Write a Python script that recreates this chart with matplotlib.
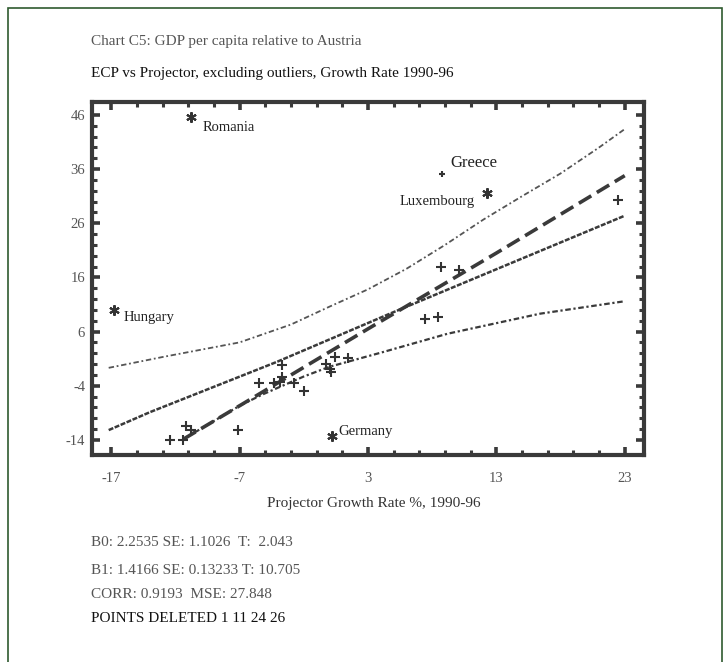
import matplotlib
matplotlib.use("Agg")
import matplotlib.pyplot as plt
from matplotlib.patches import Rectangle
from matplotlib.ticker import FixedLocator

plt.rcParams['font.family'] = ['Liberation Serif', 'DejaVu Serif']
plt.rcParams['axes.unicode_minus'] = False

# regular observations (Projector growth %, ECP growth %)
px = [-12.4, -11.4, -11.2, -10.8, -7.1, -5.5, -4.35, -3.85, -3.7, -3.7,
      -2.8, -2.0, -0.25, 0.05, 0.15, 0.45, 1.45, 7.45, 8.45, 8.65, 10.05, 22.5]
py = [-14.1, -14.1, -11.4, -12.1, -12.1, -3.5, -3.5, -3.4, -0.2, -2.4,
      -3.5, -4.9, 0.1, -0.9, -1.4, 1.3, 1.2, 8.3, 8.7, 18.0, 17.3, 30.3]

# outliers (deleted points) and Greece
out_names = ["Romania", "Hungary", "Luxembourg", "Germany"]
out_x = [-10.75, -16.75, 12.25, 0.2]
out_y = [45.7, 10.0, 31.6, -13.3]
greece_x, greece_y = 8.75, 35.1

# fitted line and bands
fit_x = [-11.4, -7.0, 3.0, 13.0, 23.0]
fit_y = [-13.9, -7.7, 6.5, 20.5, 34.8]
mid_x = [-17.2, -14.0, -4.1, 4.7, 23.0]
mid_y = [-12.2, -8.9, 0.4, 9.3, 27.4]
up_x = [-17.2, -13.0, -7.0, -3.0, 0.0, 3.0, 6.0, 9.0, 12.0, 15.0, 18.0, 21.0, 23.0]
up_y = [-0.7, 1.3, 4.0, 7.3, 10.6, 13.8, 17.6, 22.0, 26.7, 31.0, 35.2, 40.0, 43.4]
lo_x = [-11.4, -7.0, -5.2, -2.0, 0.0, 4.0, 9.2, 16.4, 23.0]
lo_y = [-13.9, -7.7, -5.6, -2.3, -0.5, 2.1, 5.6, 9.3, 11.6]

x_ticks = [-17, -7, 3, 13, 23]
y_ticks = [-14, -4, 6, 16, 26, 36, 46]

title = "Chart C5: GDP per capita relative to Austria"
subtitle = "ECP vs Projector, excluding outliers, Growth Rate 1990-96"
xlabel = "Projector Growth Rate %, 1990-96"
stats = ["B0: 2.2535 SE: 1.1026  T:  2.043",
         "B1: 1.4166 SE: 0.13233 T: 10.705",
         "CORR: 0.9193  MSE: 27.848"]
deleted = "POINTS DELETED 1 11 24 26"

W, H = 724, 662
fig = plt.figure(figsize=(W / 100, H / 100), dpi=100)
fig.patches.append(Rectangle((8 / W, -0.05), 714 / W, 1.05 - 8 / H, transform=fig.transFigure,
                             fill=False, edgecolor="#2f5a2f", linewidth=1.2))

ax = fig.add_axes([92 / W, 1 - 455 / H, (644 - 92) / W, (455 - 102) / H])
ink = "#3a3a3a"

ax.plot(up_x, up_y, color="#555555", lw=1.3, linestyle=(0, (3, 1.5, 1, 1.5)))
ax.plot(lo_x, lo_y, color="#3a3a3a", lw=1.6, linestyle=(0, (2.5, 1.2, 1, 1.2)))
ax.plot(mid_x, mid_y, color="#3a3a3a", lw=1.8, linestyle=(0, (2, 0.6)))
ax.plot(fit_x, fit_y, color="#3a3a3a", lw=2.6, linestyle=(0, (4, 1.8)))

ax.plot(px, py, linestyle="none", marker="+", ms=7, mew=1.5, color="#333333")
ax.plot(out_x, out_y, linestyle="none", marker=(6, 2, 0), ms=7.5, mew=1.5, color="#333333")
ax.plot([greece_x], [greece_y], linestyle="none", marker="+", ms=4.5, mew=1.5, color="#333333")

offsets = {"Romania": (8, -8, "left"), "Hungary": (6.5, -5.3, "left"),
           "Luxembourg": (-8.4, -6.5, "right"), "Germany": (4.5, 3.1, "left")}
for name, x, y in zip(out_names, out_x, out_y):
    dx, dy, ha = offsets[name]
    ax.annotate(name, (x, y), xytext=(dx, dy), textcoords="offset points",
                ha=ha, va="center", fontsize=10.5, color="#222222")
ax.annotate("Greece", (greece_x, greece_y), xytext=(6, 7.7), textcoords="offset points",
            ha="left", va="center", fontsize=12, color="#222222")

ax.set_xlim(-18.5, 24.5)
ax.set_ylim(-16.8, 48.4)
ax.xaxis.set_major_locator(FixedLocator(x_ticks))
ax.yaxis.set_major_locator(FixedLocator(y_ticks))
ax.xaxis.set_minor_locator(FixedLocator([v for v in range(-17, 24, 2)]))
ax.yaxis.set_minor_locator(FixedLocator([v for v in range(-14, 47, 2)]))
ax.tick_params(which="both", direction="in", top=True, right=True, color=ink,
               labelcolor="#555555", labelsize=10.5)
ax.tick_params(which="major", length=6, width=2.6)
ax.tick_params(which="minor", length=3.5, width=2.2)
ax.tick_params(axis="x", which="major", pad=12)
ax.tick_params(axis="y", which="major", pad=5)
for sp in ax.spines.values():
    sp.set_linewidth(3)
    sp.set_color(ink)

fig.text(374 / W, 1 - 503 / H, xlabel, ha="center", va="center", fontsize=11, color="#333333")
fig.text(91 / W, 1 - 41 / H, title, ha="left", va="center", fontsize=11, color="#555555")
fig.text(91 / W, 1 - 73 / H, subtitle, ha="left", va="center", fontsize=11, color="#111111")
for i, line in enumerate(stats):
    fig.text(91 / W, 1 - [543, 571, 595][i] / H, line, ha="left", va="center",
             fontsize=11, color="#555555")
fig.text(91 / W, 1 - 619 / H, deleted, ha="left", va="center", fontsize=11, color="#111111")

fig.savefig("out.png", dpi=100, facecolor="white")
